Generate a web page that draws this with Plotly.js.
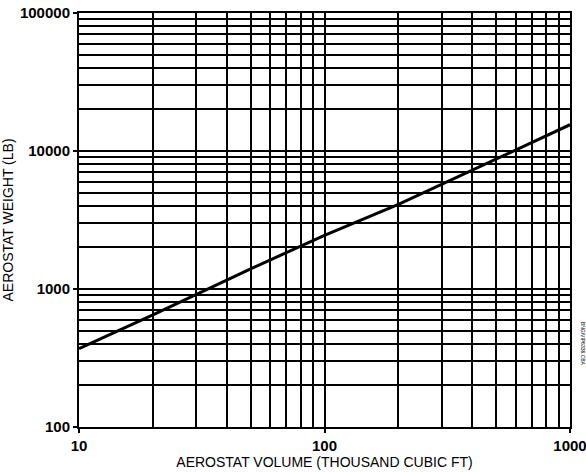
<!DOCTYPE html>
<html>
<head>
<meta charset="utf-8">
<script src="https://cdn.plot.ly/plotly-3.0.1.min.js"></script>
<style>html,body{margin:0;padding:0;background:#fff;}#chart{width:586px;height:472px;}</style>
</head>
<body>
<div id="chart"></div>
<script>
// Data
var volume = [10, 20, 50, 100, 200, 500, 1000];          // thousand cubic ft
var weight = [370, 650, 1400, 2450, 4100, 8700, 15500];   // lb

var xTickVals = [10, 100, 1000];
var xTickText = ['10', '100', '1000'];
var yTickVals = [100, 1000, 10000, 100000];
var yTickText = ['100', '1000', '10000', '100000'];

function minorVals(lo, hi) {
  var v = [];
  for (var d = lo; d < hi; d *= 10) {
    for (var k = 2; k <= 9; k++) v.push(k * d);
  }
  return v;
}

var trace = {
  x: volume, y: weight, type: 'scatter', mode: 'lines',
  line: {color: '#000', width: 3}, hoverinfo: 'none'
};

var tickFont = {family: 'Liberation Sans, Arial, sans-serif', size: 15, color: '#000', weight: 'bold'};
var titleFont = {family: 'Liberation Sans, Arial, sans-serif', size: 14, color: '#000'};

var layout = {
  width: 586, height: 472,
  margin: {l: 79, r: 16, t: 13, b: 45},
  paper_bgcolor: '#fff', plot_bgcolor: '#fff',
  showlegend: false,
  xaxis: {
    type: 'log', range: [1, 3],
    tickmode: 'array', tickvals: xTickVals, ticktext: xTickText,
    ticks: 'outside', ticklen: 4, tickwidth: 2, tickcolor: '#000',
    ticklabeloverflow: 'allow', automargin: false,
    showgrid: true, gridcolor: '#000', gridwidth: 2,
    minor: {tickmode: 'array', tickvals: minorVals(10, 1000), showgrid: true, gridcolor: '#000', gridwidth: 2, ticks: ''},
    showline: true, linecolor: '#000', linewidth: 2, mirror: true,
    zeroline: false,
    tickfont: tickFont,
    title: {text: 'AEROSTAT VOLUME (THOUSAND CUBIC FT)', font: titleFont, standoff: 4}
  },
  yaxis: {
    type: 'log', range: [2, 5],
    tickmode: 'array', tickvals: yTickVals, ticktext: yTickText,
    ticks: 'outside', ticklen: 4, tickwidth: 2, tickcolor: '#000',
    ticklabeloverflow: 'allow', automargin: false,
    showgrid: true, gridcolor: '#000', gridwidth: 2,
    minor: {tickmode: 'array', tickvals: minorVals(100, 100000), showgrid: true, gridcolor: '#000', gridwidth: 2, ticks: ''},
    showline: true, linecolor: '#000', linewidth: 2, mirror: true,
    zeroline: false,
    tickfont: tickFont,
    title: {text: 'AEROSTAT WEIGHT (LB)', font: titleFont, standoff: 4}
  },
  annotations: [{
    text: 'BNG/VIP6336.CBA', xref: 'paper', yref: 'paper', x: 1.015, y: 0.2,
    xanchor: 'left', yanchor: 'middle', textangle: 90, showarrow: false,
    font: {family: 'Liberation Sans, Arial, sans-serif', size: 5, color: '#000'}
  }]
};

Plotly.newPlot('chart', [trace], layout, {staticPlot: true, displayModeBar: false});
</script>
</body>
</html>
